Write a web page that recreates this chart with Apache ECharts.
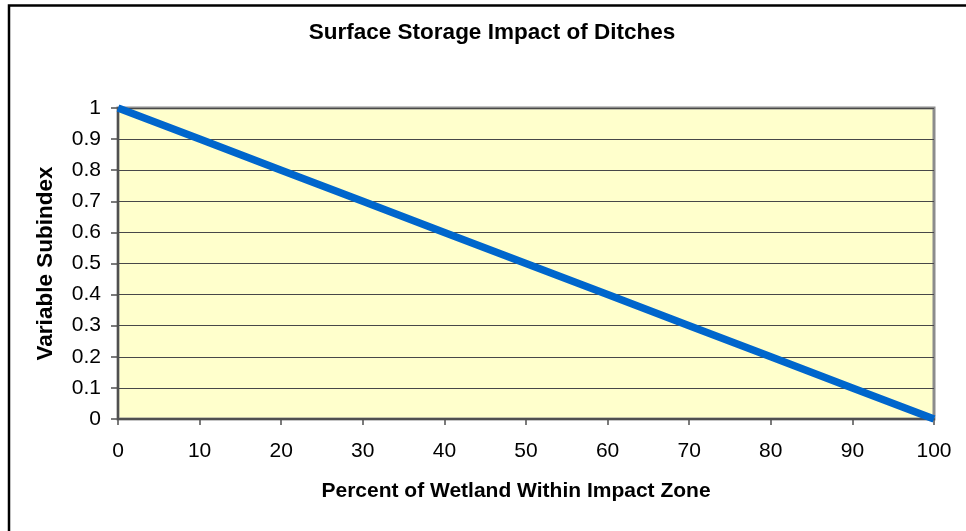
<!DOCTYPE html>
<html>
<head>
<meta charset="utf-8">
<title>Surface Storage Impact of Ditches</title>
<script src="https://cdn.jsdelivr.net/npm/echarts@6/dist/echarts.min.js"></script>
<style>
  html, body { margin: 0; padding: 0; background: #ffffff; }
  #chart { width: 966px; height: 531px; }
</style>
</head>
<body>
<div id="chart"></div>
<script>
// Percent of wetland within the impact zone and its variable subindex
const percentWetland = [0, 10, 20, 30, 40, 50, 60, 70, 80, 90, 100];
const subindex = [1, 0.9, 0.8, 0.7, 0.6, 0.5, 0.4, 0.3, 0.2, 0.1, 0];

// Axis tick labels
const xTickLabels = ['0', '10', '20', '30', '40', '50', '60', '70', '80', '90', '100'];
const yTickLabels = ['0', '0.1', '0.2', '0.3', '0.4', '0.5', '0.6', '0.7', '0.8', '0.9', '1'];

const FONT = "'Liberation Sans', Arial, sans-serif";

const chart = echarts.init(document.getElementById('chart'), null, { renderer: 'canvas' });

chart.setOption({
  animation: false,
  backgroundColor: '#ffffff',
  title: {
    text: 'Surface Storage Impact of Ditches',
    left: 487,
    textAlign: 'center',
    top: 16,
    textStyle: { fontFamily: FONT, fontSize: 22.5, fontWeight: 'bold', color: '#000000' }
  },
  graphic: [{
    type: 'rect',
    silent: true,
    z: 100,
    shape: { x: 9, y: 5.5, width: 1100, height: 1100 },
    style: { fill: 'none', stroke: '#000000', lineWidth: 2.5 }
  }],
  grid: {
    left: 118, right: 32, top: 108, bottom: 112,
    show: true,
    backgroundColor: '#FFFFCC',
    borderColor: '#8c8c8c',
    borderWidth: 3
  },
  xAxis: {
    type: 'value',
    min: 0, max: 100, interval: 10,
    name: 'Percent of Wetland Within Impact Zone',
    nameLocation: 'middle',
    nameGap: 62,
    nameTextStyle: {
      fontFamily: FONT, fontSize: 21, fontWeight: 'bold', color: '#000000',
      padding: [0, 20, 0, 0]
    },
    axisLine: { show: true, lineStyle: { color: '#505050', width: 2 } },
    axisTick: { show: true, inside: false, length: 6, lineStyle: { color: '#505050', width: 1.5 } },
    axisLabel: {
      margin: 22,
      fontFamily: FONT, fontSize: 21, color: '#000000',
      formatter: (v) => xTickLabels[Math.round(v / 10)]
    },
    splitLine: { show: false }
  },
  yAxis: {
    type: 'value',
    min: 0, max: 1, interval: 0.1,
    name: 'Variable Subindex',
    nameLocation: 'middle',
    nameGap: 61,
    nameTextStyle: { fontFamily: FONT, fontSize: 22.5, fontWeight: 'bold', color: '#000000' },
    axisLine: { show: true, lineStyle: { color: '#505050', width: 2 } },
    axisTick: { show: true, inside: false, length: 7, lineStyle: { color: '#505050', width: 1.5 } },
    axisLabel: {
      margin: 17,
      fontFamily: FONT, fontSize: 21, color: '#000000',
      formatter: (v) => yTickLabels[Math.round(v * 10)]
    },
    splitLine: { show: true, lineStyle: { color: '#484848', width: 1.2 } }
  },
  series: [{
    type: 'line',
    data: percentWetland.map((x, i) => [x, subindex[i]]),
    showSymbol: false,
    symbol: 'none',
    clip: true,
    lineStyle: { color: '#0066CC', width: 7.5, cap: 'butt', join: 'miter' },
    z: 5
  }]
});
</script>
</body>
</html>
